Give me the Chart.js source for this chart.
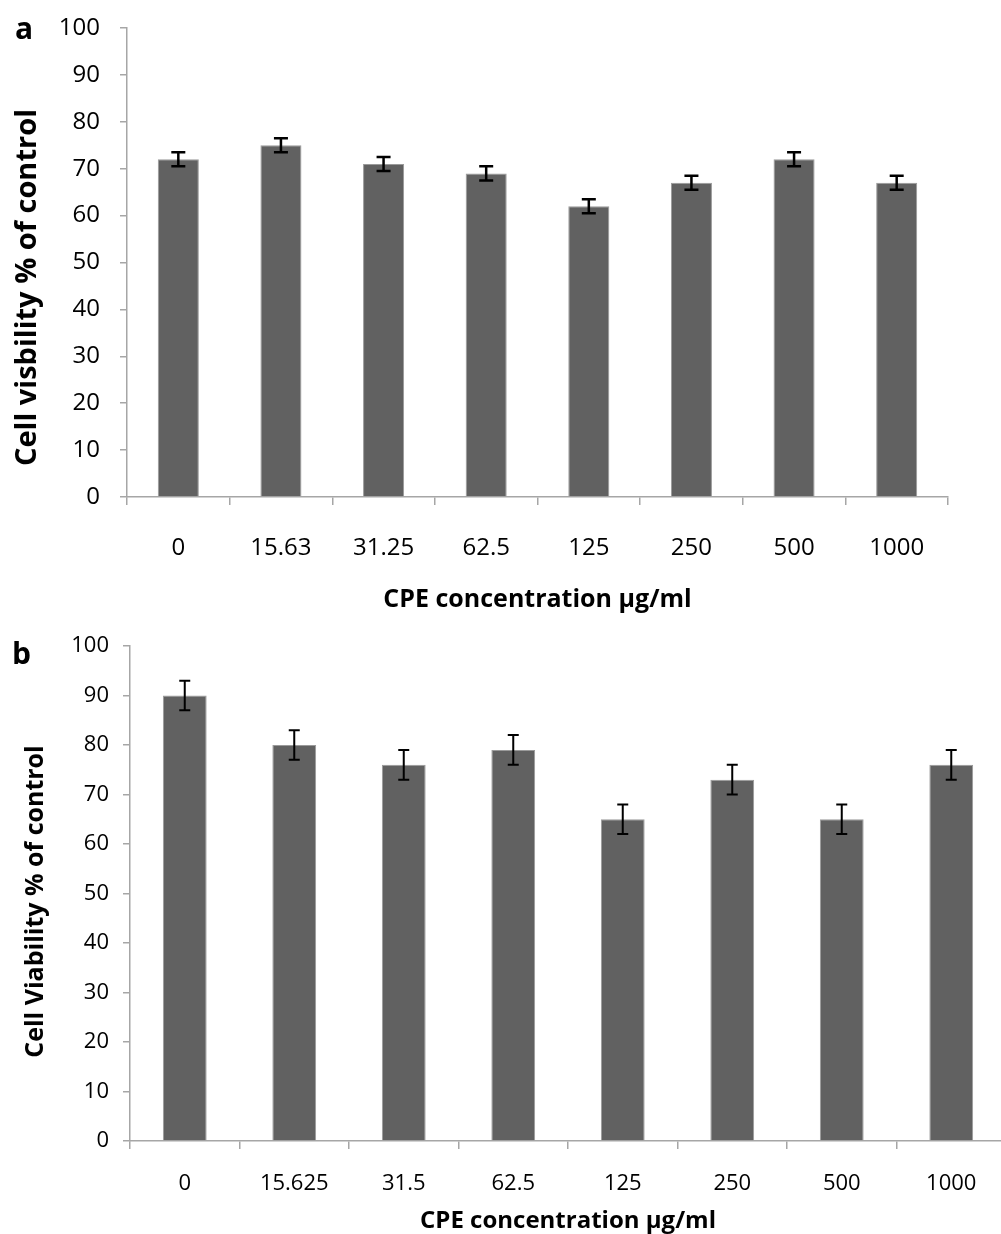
<!DOCTYPE html>
<html lang="en">
<head>
    <meta charset="UTF-8">
    <title>Cell viability</title>
    <script src="https://cdn.jsdelivr.net/npm/chart.js"></script>
    <style>
        html, body { margin: 0; padding: 0; background: #fff; overflow: hidden; width: 1001px; height: 1234px; position: relative; }
        .panel { position: absolute; left: 0; }
        #boxA { top: 0; width: 1001px; height: 615px; }
        #boxB { top: 615px; width: 1010px; height: 640px; }
        .tag { position: absolute; font-family: "Open Sans", sans-serif; font-weight: bold; font-size: 30px; line-height: 1; }
    </style>
</head>
<body>
    <div class="panel" id="boxA"><canvas id="chartA"></canvas></div>
    <div class="panel" id="boxB"><canvas id="chartB"></canvas></div>
    <div class="tag" style="left:15px; top:13px;">a</div>
    <div class="tag" style="left:12px; top:638px;">b</div>

    <script>
        // panel a
        const labelsA = ['0', '15.63', '31.25', '62.5', '125', '250', '500', '1000'];
        const valuesA = [72, 75, 71, 69, 62, 67, 72, 67];
        const errorsA = [1.5, 1.5, 1.5, 1.5, 1.5, 1.5, 1.5, 1.5];

        // panel b
        const labelsB = ['0', '15.625', '31.5', '62.5', '125', '250', '500', '1000'];
        const valuesB = [90, 80, 76, 79, 65, 73, 65, 76];
        const errorsB = [3, 3, 3, 3, 3, 3, 3, 3];

        const yTicks = [0, 10, 20, 30, 40, 50, 60, 70, 80, 90, 100];

        const axisGray = '#a6a6a6';
        const font = '"Open Sans", sans-serif';

        // draws the error bars from the dataset's error array
        const errorBars = {
            id: 'errorBars',
            afterDatasetsDraw(chart, args, opts) {
                const ctx = chart.ctx;
                const y = chart.scales.y;
                const meta = chart.getDatasetMeta(0);
                const vals = chart.data.datasets[0].data;
                ctx.save();
                ctx.strokeStyle = '#000';
                ctx.lineWidth = opts.lineWidth;
                meta.data.forEach((bar, i) => {
                    const top = y.getPixelForValue(vals[i] + opts.errors[i]);
                    const bot = y.getPixelForValue(vals[i] - opts.errors[i]);
                    const w = opts.cap / 2;
                    ctx.beginPath();
                    ctx.moveTo(bar.x, top);
                    ctx.lineTo(bar.x, bot);
                    ctx.moveTo(bar.x - w, top);
                    ctx.lineTo(bar.x + w, top);
                    ctx.moveTo(bar.x - w, bot);
                    ctx.lineTo(bar.x + w, bot);
                    ctx.stroke();
                });
                ctx.restore();
            }
        };

        // rotated y title, set a bit below the middle of the axis like the original
        const yTitle = {
            id: 'yTitle',
            afterDraw(chart, args, opts) {
                const ctx = chart.ctx;
                const area = chart.chartArea;
                ctx.save();
                ctx.translate(opts.x, (area.top + area.bottom) / 2 + opts.shift);
                ctx.rotate(-Math.PI / 2);
                ctx.font = 'bold ' + opts.size + 'px ' + font;
                ctx.fillStyle = '#000';
                ctx.textAlign = 'center';
                ctx.textBaseline = 'middle';
                ctx.fillText(opts.text, 0, 0);
                ctx.restore();
            }
        };

        function makeChart(id, labels, values, errors, cfg) {
            return new Chart(document.getElementById(id), {
                type: 'bar',
                data: {
                    labels: labels,
                    datasets: [{
                        data: values,
                        backgroundColor: '#616161',
                        borderColor: '#9a9a9a',
                        borderWidth: 1,
                        categoryPercentage: 1,
                        barPercentage: cfg.barPct
                    }]
                },
                options: {
                    responsive: true,
                    maintainAspectRatio: false,
                    animation: false,
                    layout: { padding: { top: cfg.top, right: cfg.right, left: 0, bottom: 0 } },
                    plugins: {
                        legend: { display: false },
                        tooltip: { enabled: false },
                        errorBars: { errors: errors, cap: cfg.cap, lineWidth: cfg.errW },
                        yTitle: { text: cfg.yTitle, size: cfg.yTitleSize, x: cfg.yTitleX, shift: cfg.yTitleShift }
                    },
                    scales: {
                        x: {
                            offset: true,
                            grid: { offset: true, drawOnChartArea: false, color: axisGray, tickLength: 8, lineWidth: 1.5 },
                            border: { color: axisGray, width: 1.5 },
                            ticks: { color: '#000', font: { family: font, size: cfg.tickSize }, padding: cfg.xPad, maxRotation: 0 },
                            title: { display: true, text: 'CPE concentration µg/ml', color: '#000', font: { family: font, size: cfg.xTitleSize, weight: 'bold' }, padding: { top: 4, bottom: cfg.xTitlePad } },
                            afterFit(s) { s.height = cfg.xHeight; }
                        },
                        y: {
                            min: 0,
                            max: 100,
                            afterBuildTicks(s) { s.ticks = yTicks.map(v => ({ value: v })); },
                            grid: { drawOnChartArea: false, color: axisGray, tickLength: 7, lineWidth: 1.5 },
                            border: { color: axisGray, width: 1.5 },
                            ticks: { color: '#000', font: { family: font, size: cfg.tickSize }, padding: cfg.yPad },
                            afterFit(s) {
                                s.width = cfg.yWidth;
                                // keep the plot top where layout.padding puts it
                                s.paddingTop = 0;
                                s.paddingBottom = 0;
                            }
                        }
                    }
                },
                plugins: [errorBars, yTitle]
            });
        }

        makeChart('chartA', labelsA, valuesA, errorsA, {
            barPct: 0.4, top: 28, right: 53, yWidth: 127, xHeight: 118,
            tickSize: 24, xPad: 29, xTitleSize: 25, xTitlePad: 0,
            yTitle: 'Cell visbility % of control', yTitleSize: 29, yTitleX: 28, yTitleShift: 25, yPad: 20,
            cap: 14, errW: 2.5
        });

        makeChart('chartB', labelsB, valuesB, errorsB, {
            barPct: 0.4, top: 31, right: 4, yWidth: 130, xHeight: 114,
            tickSize: 22, xPad: 22, xTitleSize: 24, xTitlePad: 19,
            yTitle: 'Cell Viability % of control', yTitleSize: 25, yTitleX: 36, yTitleShift: 8, yPad: 14,
            cap: 11, errW: 2
        });
    </script>
</body>
</html>
